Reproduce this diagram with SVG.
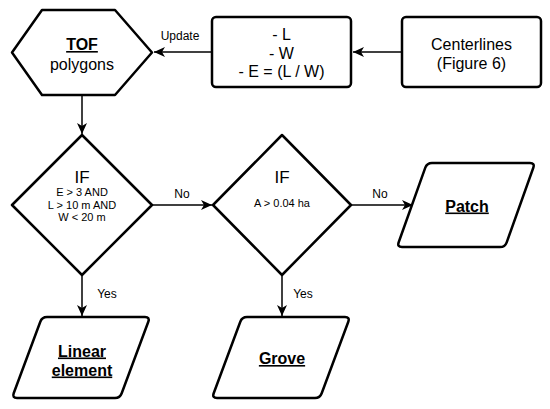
<svg xmlns="http://www.w3.org/2000/svg" width="550" height="409" viewBox="0 0 550 409">
<style>
.shape{fill:#fff;stroke:#000;stroke-width:2.5;stroke-linejoin:round}
.conn{fill:none;stroke:#000;stroke-width:1.5}
text{font-family:"Liberation Sans",Arial,Helvetica,sans-serif;fill:#000;text-anchor:middle}
.big{font-size:16px}
.bold{font-weight:bold;text-decoration:underline}
.small{font-size:11px}
.lbl{font-size:12px}
.if{font-size:17px}
</style>
<defs>
<marker id="arr" markerUnits="userSpaceOnUse" markerWidth="12" markerHeight="10" refX="11" refY="5" orient="auto">
<path d="M0,0 L11,5 L0,10 L3,5 Z" fill="#000"/>
</marker>
</defs>
<rect width="550" height="409" fill="#fff"/>
<g id="connectors">
<line class="conn" x1="402" y1="52" x2="353" y2="52" marker-end="url(#arr)"/>
<line class="conn" x1="212" y1="52" x2="154" y2="52" marker-end="url(#arr)"/>
<line class="conn" x1="82" y1="95" x2="82" y2="134" marker-end="url(#arr)"/>
<line class="conn" x1="152" y1="205" x2="212" y2="205" marker-end="url(#arr)"/>
<line class="conn" x1="351" y1="205" x2="413" y2="205" marker-end="url(#arr)"/>
<line class="conn" x1="82" y1="275" x2="82" y2="316" marker-end="url(#arr)"/>
<line class="conn" x1="282" y1="275" x2="282" y2="316" marker-end="url(#arr)"/>
<text class="lbl" x="180" y="40">Update</text>
<text class="lbl" x="182" y="198">No</text>
<text class="lbl" x="380" y="198">No</text>
<text class="lbl" x="107" y="298">Yes</text>
<text class="lbl" x="303" y="298">Yes</text>
</g>
<g id="tof">
<polygon class="shape" points="12,52.5 42,10 115,10 152,52.5 115,95 42,95"/>
<text class="big bold" x="82" y="50">TOF</text>
<text class="big" x="82" y="70">polygons</text>
</g>
<g id="metrics">
<rect class="shape" x="212" y="17" width="139" height="70" rx="4"/>
<text class="big" x="281.5" y="40">- L</text>
<text class="big" x="281.5" y="58.5">- W</text>
<text class="big" x="281.5" y="77">- E = (L / W)</text>
</g>
<g id="centerlines">
<rect class="shape" x="402" y="17" width="139" height="70" rx="4"/>
<text class="big" x="471.5" y="50">Centerlines</text>
<text class="big" x="471.5" y="69">(Figure 6)</text>
</g>
<g id="if1">
<polygon class="shape" points="82,135 152,205 82,275 12,205"/>
<text class="if" x="82" y="183">IF</text>
<text class="small" x="82" y="196">E &gt; 3 AND</text>
<text class="small" x="82" y="208.5">L &gt; 10 m AND</text>
<text class="small" x="82" y="221">W &lt; 20 m</text>
</g>
<g id="if2">
<polygon class="shape" points="282,135 351,205 282,275 213,205"/>
<text class="if" x="282" y="183">IF</text>
<text class="small" x="282" y="207">A &gt; 0.04 ha</text>
</g>
<g id="patch">
<path class="shape" d="M432,163 L530,163 Q535,163 533.3,167.7 L506.7,242.3 Q505,247 500,247 L402,247 Q397,247 398.7,242.3 L425.3,167.7 Q427,163 432,163 Z"/>
<text class="big bold" x="467" y="211.5">Patch</text>
</g>
<g id="linear">
<path class="shape" d="M47,317 L145,317 Q150,317 148.3,321.7 L121.7,393.3 Q120,398 115,398 L17,398 Q12,398 13.7,393.3 L40.3,321.7 Q42,317 47,317 Z"/>
<text class="big bold" x="82" y="356.5">Linear</text>
<text class="big bold" x="82" y="375.5">element</text>
</g>
<g id="grove">
<path class="shape" d="M247,317 L345,317 Q350,317 348.3,321.7 L321.7,393.3 Q320,398 315,398 L217,398 Q212,398 213.7,393.3 L240.3,321.7 Q242,317 247,317 Z"/>
<text class="big bold" x="282" y="364">Grove</text>
</g>
</svg>
